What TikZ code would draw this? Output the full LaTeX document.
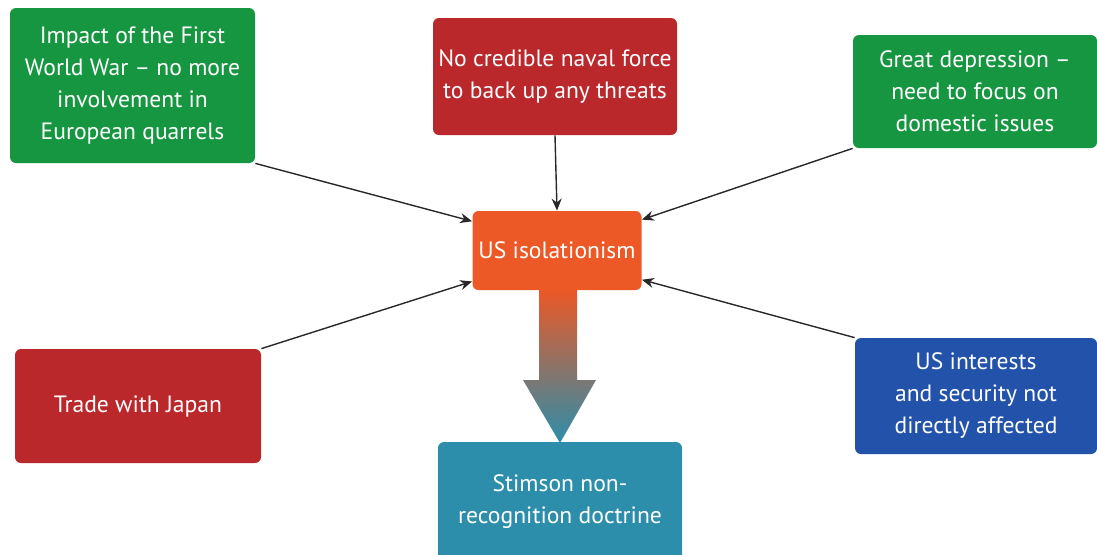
\documentclass[tikz,border=0pt]{standalone}
\usepackage{fontspec}
\setmainfont{PT Sans}
\usepackage{tikz}
\usetikzlibrary{shapes,arrows.meta,positioning,calc}

\definecolor{boxgreen}{RGB}{22,150,64}
\definecolor{boxred}{RGB}{186,40,44}
\definecolor{boxorange}{RGB}{236,88,38}
\definecolor{boxblue}{RGB}{34,82,170}
\definecolor{boxteal}{RGB}{44,142,170}
\definecolor{linegray}{RGB}{40,40,40}

\tikzset{
  cause/.style={rectangle, rounded corners=3pt, inner sep=0pt, align=center,
    text=white, font=\fontsize{11.8}{16}\selectfont},
  link/.style={-{Stealth[length=6pt,width=5pt]}, draw=linegray, line width=0.7pt}
}

\begin{document}
\begin{tikzpicture}[x=0.5pt,y=-0.5pt]
    \useasboundingbox (0,0) rectangle (1097,554);

    % draw boxes
    \node[cause, fill=boxgreen, minimum width=122.5pt, minimum height=77.5pt] (war) at (132.5,85.5)
      {Impact of the First\\World War -- no more\\involvement in\\European quarrels};
    \node[cause, fill=boxred, minimum width=122pt, minimum height=58.5pt] (navy) at (555,76.5)
      {No credible naval force\\to back up any threats};
    \node[cause, fill=boxgreen, minimum width=122pt, minimum height=56.5pt] (depression) at (975,91.5)
      {Great depression --\\need to focus on\\domestic issues};
    \node[cause, fill=boxorange, minimum width=84.5pt, minimum height=39.5pt] (iso) at (557,250.5)
      {US isolationism};
    \node[cause, fill=boxred, minimum width=123pt, minimum height=57pt] (trade) at (138,406)
      {Trade with Japan};
    \node[cause, fill=boxblue, minimum width=121pt, minimum height=58pt] (interest) at (976,396)
      {US interests\\and security not\\directly affected};
    \node[cause, fill=boxteal, minimum width=122pt, minimum height=60pt] (stimson) at (560,502)
      {Stimson non-\\recognition doctrine};

    % draw big arrow
    \shade[top color=boxorange, bottom color=boxteal]
      (539,290) -- (577,290) -- (577,380) -- (596,380) -- (560,443)
      -- (523,380) -- (539,380) -- cycle;

    % draw connectors
    \draw[link] (war.south east) -- (iso.161);
    \draw[link] (navy.south) -- (iso.north);
    \draw[link] (depression.south west) -- (iso.20);
    \draw[link] (trade.north east) -- (iso.200);
    \draw[link] (interest.north west) -- (iso.341);
\end{tikzpicture}
\end{document}
